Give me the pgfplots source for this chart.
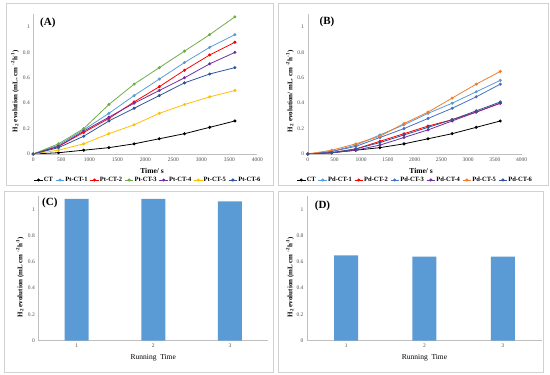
\documentclass[border=0pt]{standalone}
\usepackage{pgfplots}
\pgfplotsset{compat=1.18}
\usepackage{fontspec}
\setmainfont{Liberation Serif}
\definecolor{lblue}{HTML}{5B9BD5}
\definecolor{xred}{HTML}{FF0000}
\definecolor{xgreen}{HTML}{70AD47}
\definecolor{xpurple}{HTML}{7030A0}
\definecolor{xyellow}{HTML}{FFC000}
\definecolor{dblue}{HTML}{2F5597}
\definecolor{mblue}{HTML}{4472C4}
\definecolor{xorange}{HTML}{ED7D31}
\definecolor{barblue}{HTML}{5B9BD5}
\pgfplotsset{
  panel/.style={scale only axis, anchor=south west,
    axis lines*=left, axis line style={black!25},
    major tick length=0pt,
    tick label style={font=\fontsize{5.5}{6}\selectfont, text=black!70},
    /pgf/number format/assume math mode=true,
    /pgf/number format/1000 sep={},
    ymin=0, ymax=1.1, ytick={0,0.2,0.4,0.6,0.8,1},
    ylabel style={font=\bfseries\fontsize{7}{8}\selectfont, anchor=center},
  },
  lines/.style={panel, xmin=0, xmax=4000, xtick={0,500,...,4000},
    xlabel={Time/ s},
    xlabel style={font=\bfseries\fontsize{7.5}{8}\selectfont, at={(axis description cs:0.53,-0.12)}, anchor=center},
    legend style={draw=none, fill=none, legend columns=7, font=\bfseries\fontsize{6.5}{7}\selectfont,
      /tikz/every even column/.append style={column sep=1.5pt}, inner sep=0pt, anchor=center,
      nodes={inner sep=0.8pt}},
    legend image code/.code={\draw[mark repeat=2,mark phase=2,##1] plot coordinates {(0cm,0cm) (0.15cm,0cm) (0.3cm,0cm)};},
  },
  ser/.style={color=#1, mark=*, mark size=1.1pt, line width=0.8pt},
  bars/.style={panel, xmin=0.5, xmax=3.5, xtick={1,2,3},
    xlabel={Running\ \ Time},
    xlabel style={font=\fontsize{7.5}{8}\selectfont, at={(axis description cs:0.5,-0.118)}, anchor=center},
  },
}
\begin{document}
\begin{tikzpicture}
\path[use as bounding box] (0pt,0pt) rectangle (550pt,375pt);
\draw[black!18] (6pt,190pt) rectangle (273pt,372pt);
\draw[black!18] (278pt,190pt) rectangle (548pt,372pt);
\draw[black!18] (4pt,3pt) rectangle (273pt,184pt);
\draw[black!18] (278pt,3pt) rectangle (543pt,184pt);

% Panel A
\begin{axis}[lines, at={(33.3pt,221pt)}, width=224pt, height=139.7pt,
  ylabel={H\textsubscript{2} evolution (mL. cm \textsuperscript{-2}h\textsuperscript{-1})},
  ylabel style={at={(axis description cs:-0.082,0.45)}},
  legend style={at={(axis description cs:0.51,-0.186)}}]
\addplot[ser=black] coordinates {(0,0)(450,0.01)(900,0.03)(1350,0.05)(1800,0.08)(2250,0.12)(2700,0.16)(3150,0.21)(3600,0.26)};
\addlegendentry{CT}
\addplot[ser=lblue] coordinates {(0,0)(450,0.07)(900,0.19)(1350,0.32)(1800,0.46)(2250,0.59)(2700,0.72)(3150,0.84)(3600,0.94)};
\addlegendentry{Pt-CT-1}
\addplot[ser=xred] coordinates {(0,0)(450,0.06)(900,0.17)(1350,0.28)(1800,0.41)(2250,0.53)(2700,0.66)(3150,0.78)(3600,0.88)};
\addlegendentry{Pt-CT-2}
\addplot[ser=xgreen] coordinates {(0,0)(450,0.08)(900,0.20)(1350,0.39)(1800,0.55)(2250,0.68)(2700,0.81)(3150,0.94)(3600,1.08)};
\addlegendentry{Pt-CT-3}
\addplot[ser=xpurple] coordinates {(0,0)(450,0.06)(900,0.18)(1350,0.29)(1800,0.40)(2250,0.50)(2700,0.60)(3150,0.71)(3600,0.80)};
\addlegendentry{Pt-CT-4}
\addplot[ser=xyellow] coordinates {(0,0)(450,0.03)(900,0.08)(1350,0.16)(1800,0.23)(2250,0.32)(2700,0.39)(3150,0.45)(3600,0.50)};
\addlegendentry{Pt-CT-5}
\addplot[ser=dblue] coordinates {(0,0)(450,0.05)(900,0.14)(1350,0.26)(1800,0.36)(2250,0.46)(2700,0.56)(3150,0.63)(3600,0.68)};
\addlegendentry{Pt-CT-6}
\node[font=\bfseries\fontsize{11}{12}\selectfont] at (axis description cs:0.065,0.94) {(A)};
\end{axis}

% Panel B
\begin{axis}[lines, at={(307.7pt,221pt)}, width=214pt, height=139.7pt,
  ylabel={H\textsubscript{2} evolution/ mL. cm \textsuperscript{-2}h\textsuperscript{-1})},
  ylabel style={at={(axis description cs:-0.083,0.45)}},
  legend style={at={(axis description cs:0.5,-0.186)}}]
\addplot[ser=black] coordinates {(0,0)(450,0.01)(900,0.03)(1350,0.05)(1800,0.08)(2250,0.12)(2700,0.16)(3150,0.21)(3600,0.26)};
\addlegendentry{CT}
\addplot[ser=lblue] coordinates {(0,0)(450,0.02)(900,0.07)(1350,0.15)(1800,0.23)(2250,0.32)(2700,0.40)(3150,0.49)(3600,0.58)};
\addlegendentry{Pd-CT-1}
\addplot[ser=xred] coordinates {(0,0)(450,0.01)(900,0.04)(1350,0.10)(1800,0.16)(2250,0.22)(2700,0.27)(3150,0.33)(3600,0.40)};
\addlegendentry{Pd-CT-2}
\addplot[ser=mblue] coordinates {(0,0)(450,0.02)(900,0.06)(1350,0.13)(1800,0.20)(2250,0.28)(2700,0.36)(3150,0.45)(3600,0.55)};
\addlegendentry{Pd-CT-3}
\addplot[ser=xpurple] coordinates {(0,0)(450,0.01)(900,0.03)(1350,0.07)(1800,0.13)(2250,0.19)(2700,0.26)(3150,0.33)(3600,0.40)};
\addlegendentry{Pd-CT-4}
\addplot[ser=xorange] coordinates {(0,0)(450,0.03)(900,0.08)(1350,0.14)(1800,0.24)(2250,0.33)(2700,0.44)(3150,0.55)(3600,0.65)};
\addlegendentry{Pd-CT-5}
\addplot[ser=dblue] coordinates {(0,0)(450,0.01)(900,0.04)(1350,0.09)(1800,0.15)(2250,0.21)(2700,0.27)(3150,0.34)(3600,0.41)};
\addlegendentry{Pd-CT-6}
\node[font=\bfseries\fontsize{11}{12}\selectfont] at (axis description cs:0.09,0.945) {(B)};
\end{axis}

% Panel C
\begin{axis}[bars, at={(38.3pt,34.3pt)}, width=230pt, height=144.5pt,
  ylabel={H\textsubscript{2} evolution (mL cm \textsuperscript{-2}h\textsuperscript{-1})},
  ylabel style={at={(axis description cs:-0.08,0.44)}}]
\addplot[ybar, bar width=24pt, fill=barblue, draw=none] coordinates {(1,1.08)(2,1.08)(3,1.06)};
\node[font=\bfseries\fontsize{11}{12}\selectfont] at (axis description cs:0.05,0.955) {(C)};
\end{axis}

% Panel D
\begin{axis}[bars, at={(307pt,34.3pt)}, width=235pt, height=144.5pt,
  ylabel={H\textsubscript{2} evolution (mL cm \textsuperscript{-2}h\textsuperscript{-1})},
  ylabel style={at={(axis description cs:-0.072,0.44)}}]
\addplot[ybar, bar width=24pt, fill=barblue, draw=none] coordinates {(1,0.65)(2,0.64)(3,0.64)};
\node[font=\bfseries\fontsize{11}{12}\selectfont] at (axis description cs:0.066,0.93) {(D)};
\end{axis}
\end{tikzpicture}
\end{document}
